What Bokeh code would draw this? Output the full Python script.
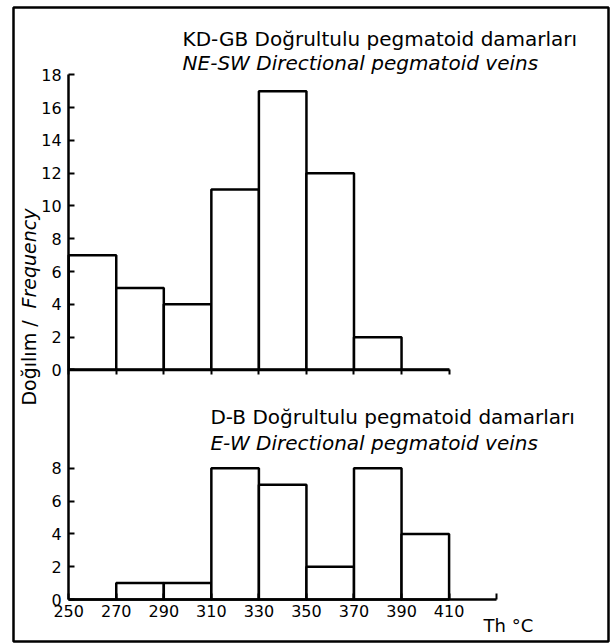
from math import pi

from bokeh.plotting import figure
from bokeh.models import LinearAxis, FixedTicker, Range1d, ColumnDataSource
from bokeh.core.properties import value
from bokeh.embed import file_html
from bokeh.resources import INLINE

# ---------------- data ----------------
bin_edges = [250, 270, 290, 310, 330, 350, 370, 390, 410]
ne_sw_counts = [7, 5, 4, 11, 17, 12, 2, 0]      # KD-GB / NE-SW veins (upper panel)
e_w_counts = [0, 1, 1, 8, 7, 2, 8, 4]           # D-B / E-W veins (lower panel)

x_ticks = [250, 270, 290, 310, 330, 350, 370, 390, 410, 430]
x_tick_labels = ["250", "270", "290", "310", "330", "350", "370", "390", "410", ""]
upper_y_ticks = [0, 2, 4, 6, 8, 10, 12, 14, 16, 18]
lower_y_ticks = [0, 2, 4, 6, 8]

upper_title = "KD-GB Doğrultulu pegmatoid damarları"
upper_subtitle = "NE-SW Directional pegmatoid veins"
lower_title = "D-B  Doğrultulu pegmatoid damarları"
lower_subtitle = "E-W Directional pegmatoid veins"
y_label_tr = "Doğılım /"
y_label_en = "Frequency"
x_unit_label = "Th °C"

# ---------------- layout constants ----------------
OFFSET = 14          # vertical position of the upper panel's zero line
FONT_NAME = "DejaVu Sans"
FONT = value(FONT_NAME)
LW = 2.5

p = figure(width=613, height=644,
           x_range=Range1d(226.78, 477.05), y_range=Range1d(-2.56, 36.10),
           x_axis_type=None, y_axis_type=None,
           output_backend="svg", toolbar_location=None,
           min_border_left=13, min_border_right=5, min_border_top=7, min_border_bottom=3)
p.outline_line_color = "black"
p.outline_line_width = LW
p.background_fill_color = "white"
p.border_fill_color = "white"

# ---------------- bars ----------------
upper = ColumnDataSource(dict(left=bin_edges[:-1], right=bin_edges[1:],
                              bottom=[OFFSET] * len(ne_sw_counts),
                              top=[OFFSET + c for c in ne_sw_counts]))
lower = ColumnDataSource(dict(left=bin_edges[:-1], right=bin_edges[1:],
                              bottom=[0] * len(e_w_counts),
                              top=e_w_counts))
p.quad(left="left", right="right", bottom="bottom", top="top", source=upper,
       fill_color="white", line_color="black", line_width=LW)
p.quad(left="left", right="right", bottom="bottom", top="top", source=lower,
       fill_color="white", line_color="black", line_width=LW)

# ---------------- axes ----------------
y_ticks = lower_y_ticks + [OFFSET + t for t in upper_y_ticks]
y_over = {t: str(t) for t in lower_y_ticks}
y_over.update({OFFSET + t: str(t) for t in upper_y_ticks})
yaxis = LinearAxis(fixed_location=250, bounds=(0, OFFSET + upper_y_ticks[-1]),
                   ticker=FixedTicker(ticks=y_ticks), major_label_overrides=y_over,
                   axis_line_width=LW, axis_line_color="black",
                   major_tick_in=6, major_tick_out=0, major_tick_line_width=2,
                   minor_tick_in=0, minor_tick_out=0,
                   major_label_standoff=7,
                   major_label_text_font=FONT_NAME, major_label_text_font_size="16px",
                   major_label_text_color="black")
p.add_layout(yaxis, "left")

xaxis = LinearAxis(fixed_location=0, bounds=(x_ticks[0], x_ticks[-1]),
                   ticker=FixedTicker(ticks=x_ticks),
                   major_label_overrides={t: l for t, l in zip(x_ticks, x_tick_labels)},
                   axis_line_width=LW, axis_line_color="black",
                   major_tick_in=6, major_tick_out=0, major_tick_line_width=2,
                   minor_tick_in=0, minor_tick_out=0,
                   major_label_standoff=5,
                   major_label_text_font=FONT_NAME, major_label_text_font_size="16px",
                   major_label_text_color="black")
p.add_layout(xaxis, "below")

xaxis_top = LinearAxis(fixed_location=OFFSET, bounds=(bin_edges[0], bin_edges[-1]),
                       ticker=FixedTicker(ticks=bin_edges),
                       major_label_overrides={t: "" for t in bin_edges},
                       axis_line_width=LW, axis_line_color="black",
                       major_tick_in=0, major_tick_out=5, major_tick_line_width=2,
                       minor_tick_in=0, minor_tick_out=0)
p.add_layout(xaxis_top, "below")

# ---------------- texts ----------------
p.text(x=[297.9], y=[34.15], text=[upper_title], text_font=FONT,
       text_font_size="20px", text_baseline="alphabetic", text_color="black")
p.text(x=[297.9], y=[32.69], text=[upper_subtitle], text_font=FONT,
       text_font_size="20px", text_font_style="italic", text_baseline="alphabetic",
       text_color="black")
p.text(x=[309.6], y=[11.16], text=[lower_title], text_font=FONT,
       text_font_size="20px", text_baseline="alphabetic", text_color="black")
p.text(x=[309.6], y=[9.52], text=[lower_subtitle], text_font=FONT,
       text_font_size="20px", text_font_style="italic", text_baseline="alphabetic",
       text_color="black")
p.text(x=[424.5], y=[-1.58], text=[x_unit_label], text_font=FONT,
       text_font_size="18px", text_baseline="alphabetic", text_color="black")
p.text(x=[233.1], y=[11.83], text=[y_label_tr], angle=pi / 2, text_font=FONT,
       text_font_size="19px", text_baseline="middle", text_align="left",
       text_color="black")
p.text(x=[233.1], y=[17.75], text=[y_label_en], angle=pi / 2, text_font=FONT,
       text_font_size="19px", text_font_style="italic", text_baseline="middle",
       text_align="left", text_color="black")

open("out.html", "w").write(file_html(p, INLINE))
